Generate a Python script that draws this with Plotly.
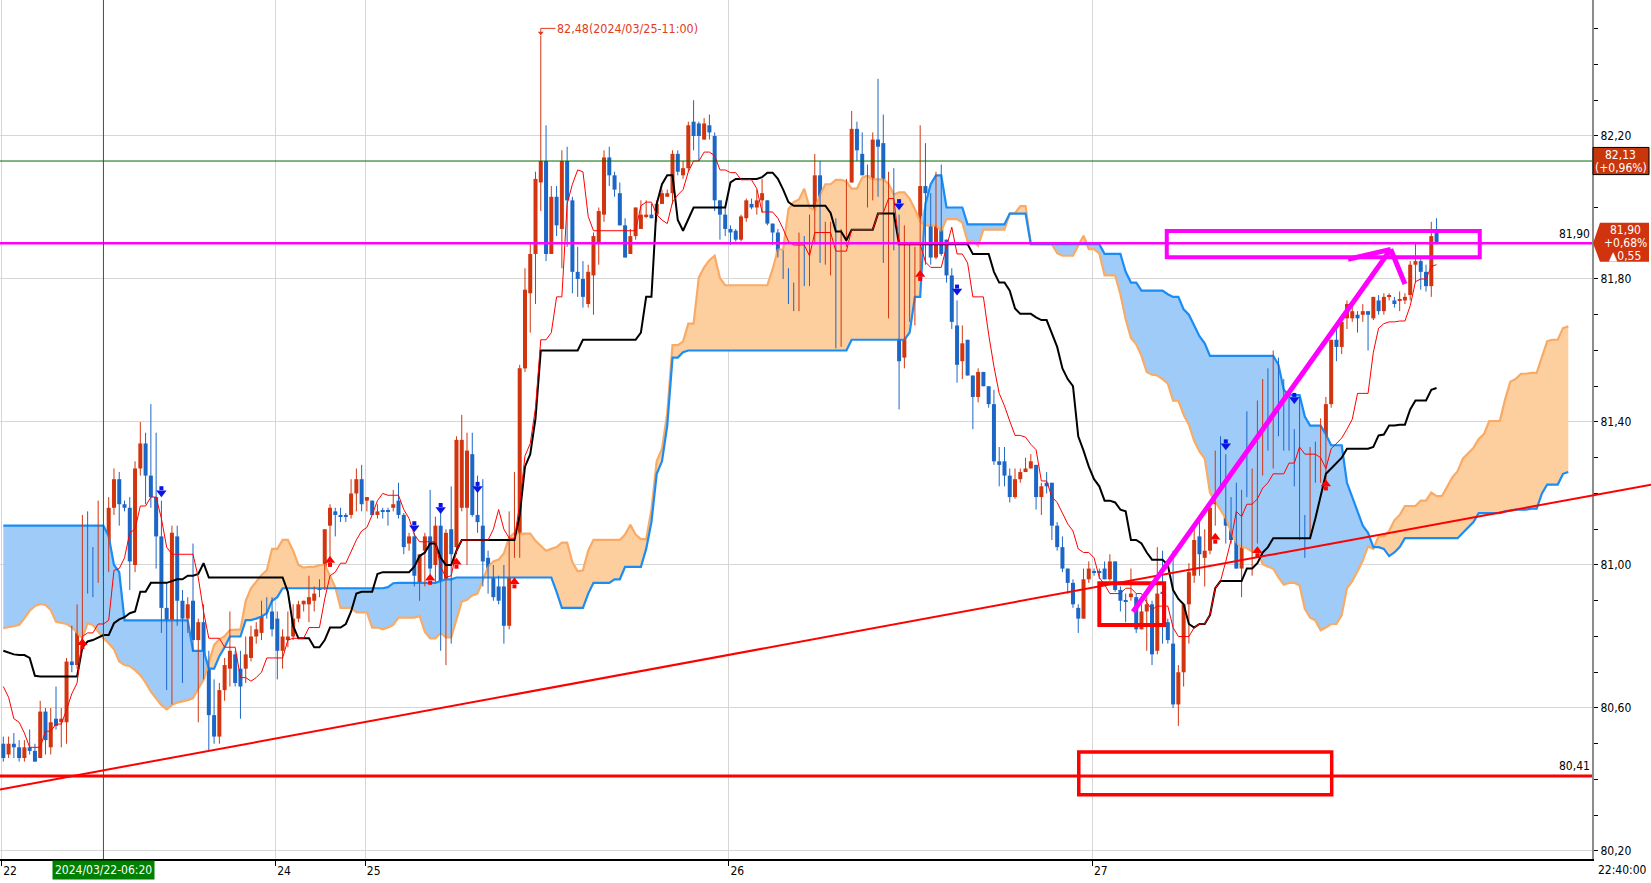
import numpy as np
import plotly.graph_objects as go

# 20-minute candles (bar 0 = 2024/03/22 00:00)
open_ = [
    80.50, 80.47, 80.50, 80.49, 80.46, 80.49, 80.48, 80.46, 80.59, 80.49,
    80.57, 80.56, 80.56, 80.73, 80.72, 80.87, 81.10, 81.03, 80.97, 81.07,
    81.04, 81.16, 81.24, 81.17, 81.16, 81.00, 81.27, 81.34, 81.25, 81.19,
    81.08, 80.88, 80.66, 81.08, 80.90, 80.85, 80.90, 80.79, 80.84, 80.71,
    80.58, 80.52, 80.65, 80.71, 80.75, 80.71, 80.71, 80.74, 80.80, 80.81,
    80.90, 80.87, 80.85, 80.76, 80.79, 80.80, 80.85, 80.89, 80.89, 80.90,
    80.93, 80.94, 81.11, 81.15, 81.14, 81.14, 81.14, 81.20, 81.24, 81.18,
    81.18, 81.14, 81.15, 81.15, 81.16, 81.18, 81.14, 81.06, 81.08, 80.94,
    81.04, 81.08, 81.00, 81.11, 80.83, 81.10, 81.05, 81.16, 81.16, 81.31,
    81.14, 81.11, 81.02, 80.98, 80.94, 80.94, 80.83, 81.03, 81.06, 81.55,
    81.76, 81.87, 82.07, 82.13, 81.87, 82.03, 81.94, 82.13, 82.02, 81.82,
    81.80, 81.73, 81.81, 81.90, 81.98, 82.14, 82.09, 82.04, 81.95, 81.87,
    81.92, 81.94, 81.975, 81.98, 81.98, 82.01, 82.03, 82.04, 82.15, 82.09,
    82.11, 82.24, 82.235, 82.19, 82.23, 82.20, 82.02, 81.98, 81.94, 81.935,
    81.91, 81.97, 82.01, 82.00, 82.02, 82.02, 81.955, 81.93, 81.87, 81.80,
    81.74, 81.73, 81.83, 81.79, 81.93, 82.09, 81.85, 81.90, 81.97, 81.61,
    81.90, 82.07, 82.22, 82.15, 82.09, 82.07, 82.19, 82.18, 81.88, 82.03,
    81.88, 81.58, 81.86, 81.79, 81.85, 82.06, 82.03, 81.86, 82.00, 81.91,
    81.81, 81.67, 81.57, 81.63, 81.53, 81.47, 81.54, 81.50, 81.45, 81.29,
    81.29, 81.25, 81.19, 81.24, 81.26, 81.27, 81.28, 81.19, 81.23, 81.23,
    81.11, 81.05, 80.99, 80.95, 80.88, 80.85, 80.96, 80.98, 80.98, 80.99,
    80.96, 81.01, 80.93, 80.90, 80.91, 80.91, 80.82, 80.87, 80.89, 80.76,
    80.925, 80.84, 80.78, 80.61, 80.70, 80.89, 80.97, 81.08, 81.02, 81.04,
    81.17, 81.29, 81.29, 81.12, 81.08, 80.99, 81.21, 81.19, 81.20, 81.28,
    81.50, 81.36, 81.52, 81.37, 81.37, 81.36, 81.24, 81.13, 81.10, 81.31,
    81.24, 81.26, 81.45, 81.63, 81.61, 81.69, 81.69, 81.70, 81.70, 81.71,
    81.69, 81.74, 81.71, 81.75, 81.74, 81.74, 81.74, 81.755, 81.84, 81.85,
    81.82, 81.78, 81.93,
]
high = [
    80.52, 80.52, 80.53, 80.51, 80.51, 80.54, 80.50, 80.62, 80.60, 80.60,
    80.66, 80.60, 80.74, 80.83, 80.89, 81.14, 81.15, 81.05, 81.18, 81.11,
    81.19, 81.27, 81.26, 81.18, 81.19, 81.29, 81.40, 81.37, 81.45, 81.37,
    81.18, 80.95, 81.11, 81.11, 80.93, 80.91, 81.06, 80.85, 80.89, 80.76,
    80.68, 80.67, 80.74, 80.87, 80.76, 80.76, 80.80, 80.83, 80.84, 80.90,
    80.91, 80.91, 80.87, 80.82, 80.87, 80.89, 80.90, 80.90, 80.97, 80.94,
    80.96, 81.10, 81.17, 81.16, 81.16, 81.145, 81.24, 81.27, 81.28, 81.19,
    81.18, 81.17, 81.16, 81.16, 81.21, 81.23, 81.145, 81.09, 81.09, 81.03,
    81.09, 81.21, 81.135, 81.145, 81.10, 81.22, 81.36, 81.42, 81.37, 81.37,
    81.25, 81.24, 81.04, 81.00, 80.97, 81.00, 81.15, 81.26, 81.56, 81.83,
    81.90, 82.10, 82.48, 82.23, 82.06, 82.06, 82.16, 82.17, 82.03, 81.89,
    81.85, 81.84, 81.93, 82.00, 82.16, 82.17, 82.10, 82.07, 81.97, 81.94,
    82.00, 82.02, 82.02, 82.01, 82.02, 82.05, 82.05, 82.16, 82.16, 82.13,
    82.24, 82.30, 82.24, 82.25, 82.26, 82.21, 82.02, 82.00, 81.95, 81.94,
    81.98, 82.025, 82.025, 82.05, 82.08, 82.02, 81.955, 81.94, 81.88, 81.83,
    81.79, 81.93, 81.92, 81.98, 82.15, 82.13, 81.96, 81.96, 81.97, 81.94,
    82.08, 82.27, 82.24, 82.21, 82.12, 82.21, 82.36, 82.26, 82.10, 82.11,
    81.98, 81.95, 81.90, 81.89, 82.23, 82.18, 82.04, 82.10, 82.12, 81.91,
    81.83, 81.74, 81.67, 81.63, 81.53, 81.55, 81.54, 81.50, 81.49, 81.33,
    81.33, 81.27, 81.27, 81.27, 81.30, 81.31, 81.28, 81.23, 81.26, 81.23,
    81.12, 81.08, 80.99, 80.96, 80.89, 80.99, 81.01, 80.99, 80.99, 81.01,
    81.03, 81.01, 80.94, 80.92, 80.99, 80.92, 80.89, 80.91, 80.90, 81.05,
    81.04, 80.85, 81.04, 80.72, 80.89, 81.005, 81.10, 81.12, 81.10, 81.17,
    81.32, 81.36, 81.31, 81.19, 81.23, 81.21, 81.43, 81.27, 81.46, 81.52,
    81.55, 81.60, 81.58, 81.52, 81.49, 81.38, 81.47, 81.14, 81.33, 81.345,
    81.41, 81.47, 81.63, 81.66, 81.69, 81.74, 81.73, 81.71, 81.73, 81.71,
    81.75, 81.755, 81.76, 81.76, 81.75, 81.765, 81.76, 81.85, 81.90, 81.86,
    81.84, 81.96, 81.97,
]
low = [
    80.45, 80.46, 80.46, 80.45, 80.45, 80.47, 80.45, 80.46, 80.47, 80.47,
    80.54, 80.49, 80.50, 80.70, 80.71, 80.77, 80.92, 80.91, 80.95, 80.97,
    80.98, 81.14, 81.11, 81.15, 80.93, 80.98, 81.25, 81.17, 81.16, 80.99,
    80.81, 80.65, 80.61, 80.83, 80.67, 80.81, 80.76, 80.56, 80.68, 80.48,
    80.50, 80.50, 80.62, 80.66, 80.66, 80.57, 80.67, 80.73, 80.78, 80.79,
    80.85, 80.80, 80.68, 80.71, 80.77, 80.79, 80.84, 80.87, 80.84, 80.87,
    80.91, 80.93, 81.00, 81.08, 81.12, 81.12, 81.13, 81.15, 81.15, 81.15,
    81.14, 81.13, 81.13, 81.11, 81.15, 81.13, 81.03, 81.04, 80.94, 80.90,
    80.94, 80.96, 80.95, 80.76, 80.72, 80.78, 81.03, 81.15, 81.00, 81.135,
    81.09, 80.94, 80.92, 80.90, 80.89, 80.78, 80.82, 81.02, 81.02, 81.54,
    81.65, 81.73, 81.99, 81.85, 81.87, 81.92, 81.83, 81.89, 81.76, 81.75,
    81.72, 81.72, 81.70, 81.84, 81.96, 82.06, 82.03, 81.95, 81.86, 81.87,
    81.91, 81.94, 81.97, 81.97, 81.96, 82.01, 82.03, 82.01, 82.09, 82.08,
    82.10, 82.16, 82.13, 82.19, 82.19, 81.99, 81.91, 81.92, 81.895, 81.905,
    81.905, 81.96, 81.995, 81.98, 81.985, 81.95, 81.895, 81.86, 81.80, 81.73,
    81.71, 81.71, 81.78, 81.78, 81.90, 81.845, 81.84, 81.81, 81.606, 81.61,
    81.89, 82.07, 82.13, 82.09, 82.00, 82.02, 82.03, 81.845, 81.69, 81.88,
    81.435, 81.55, 81.68, 81.67, 81.81, 81.84, 81.84, 81.855, 81.865, 81.79,
    81.66, 81.51, 81.52, 81.53, 81.38, 81.455, 81.50, 81.44, 81.28, 81.22,
    81.22, 81.175, 81.185, 81.23, 81.26, 81.27, 81.155, 81.14, 81.20, 81.07,
    81.04, 80.98, 80.92, 80.88, 80.81, 80.85, 80.95, 80.97, 80.96, 80.96,
    80.956, 80.925, 80.87, 80.84, 80.90, 80.81, 80.82, 80.76, 80.72, 80.75,
    80.78, 80.78, 80.60, 80.55, 80.66, 80.78, 80.95, 80.97, 80.94, 81.03,
    81.11, 81.21, 81.06, 81.06, 80.99, 80.91, 81.19, 80.97, 81.06, 81.25,
    81.32, 81.27, 81.36, 81.32, 81.32, 81.22, 81.07, 81.02, 81.075, 81.23,
    81.23, 81.22, 81.44, 81.57, 81.59, 81.66, 81.68, 81.65, 81.68, 81.60,
    81.685, 81.70, 81.70, 81.74, 81.72, 81.71, 81.73, 81.74, 81.79, 81.77,
    81.765, 81.75, 81.90,
]
close = [
    80.46, 80.50, 80.49, 80.46, 80.49, 80.48, 80.45, 80.59, 80.51, 80.56,
    80.55, 80.57, 80.73, 80.72, 80.86, 81.11, 81.04, 80.97, 81.07, 81.05,
    81.16, 81.24, 81.17, 81.16, 81.01, 81.27, 81.34, 81.25, 81.19, 81.08,
    80.88, 80.67, 81.09, 80.90, 80.85, 80.89, 80.79, 80.84, 80.71, 80.58,
    80.52, 80.65, 80.72, 80.76, 80.67, 80.66, 80.75, 80.80, 80.82, 80.89,
    80.87, 80.82, 80.76, 80.80, 80.80, 80.85, 80.89, 80.90, 80.91, 80.92,
    80.94, 81.10, 81.16, 81.14, 81.135, 81.135, 81.20, 81.24, 81.17, 81.19,
    81.14, 81.15, 81.15, 81.15, 81.17, 81.14, 81.05, 81.08, 80.97, 81.03,
    81.08, 80.99, 81.11, 80.84, 81.09, 81.03, 81.35, 81.35, 81.32, 81.14,
    81.12, 81.01, 80.99, 80.91, 80.90, 80.83, 81.03, 81.05, 81.55, 81.77,
    81.87, 82.08, 82.13, 81.87, 82.03, 81.95, 82.13, 82.02, 81.82, 81.80,
    81.75, 81.82, 81.92, 81.99, 82.14, 82.09, 82.05, 81.95, 81.86, 81.92,
    82.00, 81.98, 81.98, 81.97, 82.01, 82.04, 82.04, 82.15, 82.10, 82.11,
    82.23, 82.20, 82.20, 82.235, 82.21, 82.02, 81.98, 81.94, 81.93, 81.91,
    81.975, 82.02, 82.00, 82.02, 82.04, 81.955, 81.93, 81.87, 81.81, 81.75,
    81.72, 81.84, 81.78, 81.93, 82.09, 81.85, 81.90, 81.96, 81.61, 81.94,
    82.07, 82.22, 82.16, 82.09, 82.07, 82.19, 82.17, 81.88, 82.03, 81.89,
    81.57, 81.86, 81.80, 81.85, 82.06, 82.04, 81.86, 81.99, 81.87, 81.81,
    81.68, 81.56, 81.62, 81.53, 81.47, 81.54, 81.50, 81.45, 81.29, 81.28,
    81.25, 81.19, 81.24, 81.26, 81.27, 81.29, 81.19, 81.22, 81.22, 81.11,
    81.05, 80.99, 80.95, 80.89, 80.85, 80.96, 80.99, 80.978, 80.978, 80.96,
    81.01, 80.93, 80.90, 80.898, 80.92, 80.82, 80.87, 80.89, 80.75, 80.92,
    80.92, 80.79, 80.61, 80.70, 80.89, 80.98, 81.07, 81.03, 81.04, 81.16,
    81.29, 81.29, 81.11, 81.07, 80.99, 81.20, 81.19, 81.21, 81.28, 81.50,
    81.37, 81.53, 81.38, 81.365, 81.365, 81.24, 81.13, 81.10, 81.31, 81.24,
    81.26, 81.45, 81.63, 81.61, 81.68, 81.73, 81.71, 81.69, 81.71, 81.70,
    81.75, 81.71, 81.75, 81.752, 81.73, 81.743, 81.75, 81.84, 81.85, 81.82,
    81.78, 81.92, 81.90,
]

# indicator values visible before enough history exists
tenkan_lead = [80.66, 80.63, 80.57, 80.56, 80.53, 80.49, 80.49, 80.49]
kijun_lead = [80.76, 80.755, 80.75, 80.748, 80.748, 80.74, 80.69, 80.688, 80.688, 80.688,
              80.688, 80.688, 80.688, 80.688, 80.688, 80.77, 80.786, 80.79, 80.798, 80.804,
              80.804, 80.837, 80.848, 80.854, 80.865]
span_a_lead = [80.823, 80.826, 80.829, 80.832, 80.851, 80.872, 80.885, 80.891, 80.888, 80.874,
               80.841, 80.839, 80.835, 80.826, 80.811, 80.795, 80.837, 80.832, 80.814, 80.795,
               80.781, 80.764, 80.73, 80.72, 80.717, 80.706, 80.692, 80.671, 80.646, 80.627,
               80.608, 80.596, 80.608, 80.615, 80.618, 80.622, 80.627, 80.655, 80.678, 80.725,
               80.776, 80.792, 80.801, 80.818, 80.82, 80.82, 80.90, 80.935, 80.953, 80.972]
span_b_lead = [81.11, 81.11, 81.11, 81.11, 81.11, 81.11, 81.11, 81.11, 81.11, 81.11,
               81.11, 81.11, 81.11, 81.11, 81.11, 81.11, 81.11, 81.11, 81.11, 81.11,
               81.08, 81.00, 80.98, 80.845, 80.845, 80.845, 80.845, 80.845, 80.845, 80.845,
               80.845, 80.845, 80.845, 80.845, 80.845, 80.845, 80.76, 80.76, 80.76, 80.71,
               80.71, 80.745, 80.77, 80.80, 80.80, 80.80, 80.846, 80.846, 80.85, 80.856,
               80.865, 80.90, 80.91, 80.935, 80.935, 80.935, 80.935, 80.935, 80.935, 80.935,
               80.935, 80.935, 80.935, 80.935, 80.935, 80.935, 80.935, 80.935, 80.935, 80.935,
               80.935, 80.935, 80.935, 80.938, 80.949, 80.95]

# buy / sell signal arrows (bar index, price)
up_bars = [15, 62, 81, 86, 97, 174, 230, 238, 251]
up_prices = [80.78, 81.01, 80.96, 81.005, 80.95, 81.81, 81.075, 81.037, 81.224]
down_bars = [30, 78, 83, 90, 170, 181, 232, 245]
down_prices = [81.205, 81.107, 81.158, 81.217, 82.008, 81.769, 81.336, 81.466]

day_start_bars = [0, 52, 69, 138, 207]
day_labels = ["22", "24", "25", "26", "27"]

# hand drawn objects (bar index, price)
trend_pts = [(0, 80.374), (290, 81.163)]
red_box_big = [(204.1, 80.357), (252.1, 80.477)]
red_box_small = [(208.0, 80.832), (220.3, 80.949)]
pink_box = [(220.8, 81.861), (280.2, 81.934)]
pink_arrow = [(214.4, 80.869), (263.3, 81.883)]
pink_head = [(255.2, 81.855), (266.0, 81.786)]
hline_pink = 81.90
hline_red = 80.41
hline_green = 82.13
cross_bar = 19
cross_text = "2024/03/22-06:20"
max_text = "2024/03/25-11:00"
green_box_lines = ["82,13", "(+0,96%)"]
last_box_lines = ["81,90", "+0,68%", "▲0,55"]

assert len(open_) == len(high) == len(low) == len(close)

RED = "#d2350f"
BLUE = "#1c67c6"
FONT = "Liberation Sans Narrow, DejaVu Sans Condensed, Arial Narrow, sans-serif"
SHIFT = 25
XR = [-0.63, 301.5]
YR = [80.1776, 82.5804]
PLOT_W = 1651 - 59
PX = (YR[1] - YR[0]) / 859  # price per pixel

n_bars = len(close)
bars = list(range(n_bars))


def midpoint(period, i):
    lo = max(0, i - period + 1)
    return (max(high[lo:i + 1]) + min(low[lo:i + 1])) / 2


tenkan = tenkan_lead + [midpoint(9, i) for i in range(len(tenkan_lead), n_bars)]
kijun = kijun_lead + [midpoint(26, i) for i in range(len(kijun_lead), n_bars)]
span_x = list(range(n_bars + SHIFT))
span_a = span_a_lead + [(tenkan[i - SHIFT] + kijun[i - SHIFT]) / 2
                        for i in range(len(span_a_lead), n_bars + SHIFT)]
span_b = span_b_lead + [midpoint(52, i - SHIFT) for i in range(len(span_b_lead), n_bars + SHIFT)]
cloud_top = np.maximum(span_a, span_b)

fig = go.Figure()
nolines = dict(width=0)
# orange cloud where span A is on top, blue cloud where span B is on top
fig.add_trace(go.Scatter(x=span_x, y=span_b, mode="lines", line=nolines, hoverinfo="skip"))
fig.add_trace(go.Scatter(x=span_x, y=cloud_top, mode="lines", line=nolines, fill="tonexty",
                         fillcolor="#fdcf9f", hoverinfo="skip"))
fig.add_trace(go.Scatter(x=span_x, y=span_a, mode="lines", line=nolines, hoverinfo="skip"))
fig.add_trace(go.Scatter(x=span_x, y=cloud_top, mode="lines", line=nolines, fill="tonexty",
                         fillcolor="#9ecbf8", hoverinfo="skip"))
fig.add_trace(go.Scatter(x=span_x, y=span_a, mode="lines", line=dict(color="#f9ab66", width=2.2)))
fig.add_trace(go.Scatter(x=span_x, y=span_b, mode="lines", line=dict(color="#1a8cf5", width=2.2)))

# candles: wicks as line segments, bodies as bars
for up, color in [(True, RED), (False, BLUE)]:
    idx = [i for i in bars if (close[i] > open_[i]) == up]
    wx, wy = [], []
    for i in idx:
        wx += [i, i, None]
        wy += [low[i], high[i], None]
    fig.add_trace(go.Scatter(x=wx, y=wy, mode="lines", line=dict(color=color, width=1),
                             hoverinfo="skip"))
    fig.add_trace(go.Bar(x=idx, base=[min(open_[i], close[i]) for i in idx],
                         y=[max(abs(close[i] - open_[i]), 1.2 * PX) for i in idx],
                         width=0.76, marker=dict(color=color, line=dict(width=0)),
                         hoverinfo="skip"))

fig.add_trace(go.Scatter(x=bars, y=kijun, mode="lines", line=dict(color="black", width=2)))
fig.add_trace(go.Scatter(x=bars, y=tenkan, mode="lines", line=dict(color="#ff0000", width=1)))

# block arrows: head + stem
fig.add_trace(go.Scatter(x=up_bars, y=[p - 3.5 * PX for p in up_prices], mode="markers",
                         marker=dict(symbol="square", size=4, color="#ff0000", line=dict(width=0))))
fig.add_trace(go.Scatter(x=up_bars, y=[p + 1 * PX for p in up_prices], mode="markers",
                         marker=dict(symbol="triangle-up", size=9, color="#ff0000",
                                     line=dict(width=0))))
fig.add_trace(go.Scatter(x=down_bars, y=[p + 3.5 * PX for p in down_prices], mode="markers",
                         marker=dict(symbol="square", size=4, color="#0a14e6", line=dict(width=0))))
fig.add_trace(go.Scatter(x=down_bars, y=[p - 1 * PX for p in down_prices], mode="markers",
                         marker=dict(symbol="triangle-down", size=9, color="#0a14e6",
                                     line=dict(width=0))))

# highest high marker: small arrowhead just above the wick
imax = int(np.argmax(high))
hmax = high[imax]
fig.add_trace(go.Scatter(x=[imax], y=[hmax + 3 * PX], mode="markers",
                         marker=dict(symbol="triangle-down", size=5, color="#e03c1e",
                                     line=dict(width=0))))

shapes = []


def hline(y, color, width):
    shapes.append(dict(type="line", xref="paper", x0=0, x1=1, yref="y", y0=y, y1=y,
                       line=dict(color=color, width=width)))


hline(hline_green, "#006b00", 1)
hline(hline_pink, "#ff00ff", 2.5)
hline(hline_red, "#ff0000", 3)
shapes.append(dict(type="line", xref="x", x0=cross_bar, x1=cross_bar, yref="paper", y0=0, y1=1,
                   line=dict(color="#008000", width=1)))

# trendline, extended across the plot and over the price scale
(tx0, ty0), (tx1, ty1) = trend_pts
slope = (ty1 - ty0) / (tx1 - tx0)
bar_at_edge = XR[0] + (1651 / PLOT_W) * (XR[1] - XR[0])
shapes.append(dict(type="line", xref="paper", x0=0, x1=1651 / PLOT_W, yref="y",
                   y0=ty0 + slope * (XR[0] - tx0), y1=ty0 + slope * (bar_at_edge - tx0),
                   line=dict(color="#ff0000", width=2)))


def box(pts, color, width):
    (x0, y0), (x1, y1) = pts
    shapes.append(dict(type="rect", xref="x", yref="y", x0=x0, x1=x1, y0=y0, y1=y1,
                       line=dict(color=color, width=width)))


box(red_box_big, "#ff0000", 3.5)
box(red_box_small, "#ff0000", 4)
box(pink_box, "#ff00ff", 4)
tip = pink_arrow[1]
for a, b in [(pink_arrow[0], tip), (tip, pink_head[0]), (tip, pink_head[1])]:
    shapes.append(dict(type="line", xref="x", yref="y", x0=a[0], y0=a[1], x1=b[0], y1=b[1],
                       line=dict(color="#ff00ff", width=5)))

label_y = hmax + 7.5 * PX
shapes.append(dict(type="path", xref="x", yref="y",
                   path=f"M {imax},{hmax + 4 * PX} L {imax},{label_y} L {imax + 2.8},{label_y}",
                   line=dict(color="#e03c1e", width=1)))

# price scale boxes
px = lambda p: p / PLOT_W
shapes.append(dict(type="rect", xref="paper", yref="y", x0=px(1593), x1=px(1649),
                   y0=82.092, y1=82.168, fillcolor="#c8360c", line=dict(color="black", width=1)))
shapes.append(dict(type="path", xref="paper", yref="y",
                   path=f"M {px(1593)},{close[-1]} L {px(1600)},81.957 L {px(1649)},81.957 "
                        f"L {px(1649)},81.848 L {px(1600)},81.848 Z",
                   fillcolor="#d0330e", line=dict(width=0)))

fmt = lambda v: f"{v:.2f}".replace(".", ",")
annotations = [
    dict(x=1, xref="paper", xanchor="right", y=hline_pink, yref="y", yanchor="bottom",
         text=fmt(hline_pink), showarrow=False, font=dict(size=12, color="black")),
    dict(x=1, xref="paper", xanchor="right", y=hline_red, yref="y", yanchor="bottom", yshift=1,
         text=fmt(hline_red), showarrow=False, font=dict(size=12, color="black")),
    dict(x=imax + 2.7, xref="x", xanchor="left", y=label_y, yref="y", yanchor="middle",
         text=f"{fmt(hmax)}({max_text})", showarrow=False,
         font=dict(size=12.4, color="#e03c1e")),
    dict(x=cross_bar, xref="x", xanchor="center", y=0, yref="paper", yanchor="top", yshift=-1,
         text=cross_text, showarrow=False, bgcolor="#008000", borderpad=2,
         font=dict(size=12, color="white")),
    dict(x=px(1649), xref="paper", xanchor="right", y=0, yref="paper", yanchor="top", yshift=-2,
         text="22:40:00", showarrow=False, font=dict(size=12, color="black")),
]
# multi-line labels on the price scale, one annotation per line for tight spacing
for k, line in enumerate(green_box_lines):
    annotations.append(dict(x=px(1621), xref="paper", xanchor="center", y=hline_green, yref="y",
                            yanchor="middle", yshift=6.5 - 13 * k, text=line, showarrow=False,
                            font=dict(size=12, color="white")))
for k, line in enumerate(last_box_lines):
    annotations.append(dict(x=px(1625), xref="paper", xanchor="center", y=close[-1], yref="y",
                            yanchor="middle", yshift=13 - 13 * k, text=line, showarrow=False,
                            font=dict(size=12, color="white")))

fig.update_layout(
    width=1651, height=883,
    margin=dict(l=0, r=59, t=0, b=24),
    paper_bgcolor="white", plot_bgcolor="white",
    showlegend=False, hovermode=False, barmode="overlay",
    separators=",.",
    font=dict(family=FONT, size=12, color="black"),
    shapes=shapes, annotations=annotations,
    xaxis=dict(range=XR, tickvals=[b - 0.3 for b in day_start_bars], ticktext=day_labels,
               ticks="outside", ticklen=5, tickcolor="black", ticklabelposition="outside right",
               showgrid=True, gridcolor="#d6d6d6", zeroline=False,
               showline=True, linecolor="black", linewidth=2),
    yaxis=dict(side="right", range=YR, tick0=80.2, dtick=0.4, tickformat=".2f",
               ticks="outside", ticklen=4, tickcolor="black",
               showgrid=True, gridcolor="#d6d6d6", zeroline=False,
               showline=True, linecolor="#8c8c8c", linewidth=2,
               minor=dict(dtick=0.1, ticks="outside", ticklen=4, tickcolor="black", showgrid=False)),
)

# the page is shot at exactly the figure size, so drop the default body margin
fig.write_html("out.html", config={"displayModeBar": False},
               post_script="document.body.style.margin='0';")
